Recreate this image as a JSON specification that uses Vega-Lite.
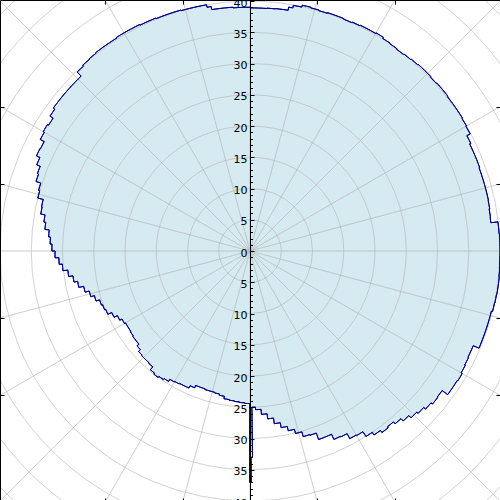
{
 "$schema": "https://vega.github.io/schema/vega-lite/v6.json",
 "width": 500, "height": 502, "padding": 0, "autosize": {"type": "none"},
 "background": "white",
 "config": {"view": {"stroke": null}, "axis": {"grid": false, "title": null, "zindex": 1, "domainColor": "black", "tickColor": "black", "labelColor": "black", "labelFont": "DejaVu Sans", "labelFontSize": 11, "labelFlush": false, "labelOverlap": false}},
 "datasets": {
  "bins": [
{"a0":0,"a1":2,"r":38.9},{"a0":2,"a1":4,"r":38.9},{"a0":4,"a1":6,"r":38.95},{"a0":6,"a1":8,"r":39.0},{"a0":8,"a1":9,"r":39.0},{"a0":9,"a1":10,"r":39.5},{"a0":10,"a1":12,"r":39.9},{"a0":12,"a1":14,"r":40.2},{"a0":14,"a1":16,"r":40.1},{"a0":16,"a1":18,"r":40.0},{"a0":18,"a1":20,"r":40.1},{"a0":20,"a1":22,"r":40.1},{"a0":22,"a1":24,"r":40.0},{"a0":24,"a1":26,"r":40.1},{"a0":26,"a1":28,"r":40.2},{"a0":28,"a1":30,"r":40.2},{"a0":30,"a1":32,"r":40.3},{"a0":32,"a1":34,"r":40.1},{"a0":34,"a1":36,"r":40.0},{"a0":36,"a1":38,"r":39.9},{"a0":38,"a1":40,"r":40.0},{"a0":40,"a1":42,"r":40.1},{"a0":42,"a1":44,"r":40.2},{"a0":44,"a1":46,"r":40.2},{"a0":46,"a1":48,"r":40.1},{"a0":48,"a1":50,"r":40.2},{"a0":50,"a1":52,"r":40.2},{"a0":52,"a1":54,"r":40.1},{"a0":54,"a1":56,"r":40.1},{"a0":56,"a1":58,"r":40.1},{"a0":58,"a1":60,"r":40.0},{"a0":60,"a1":62,"r":39.9},{"a0":62,"a1":64,"r":39.3},{"a0":64,"a1":66,"r":39.1},{"a0":66,"a1":68,"r":39.1},{"a0":68,"a1":70,"r":39.1},{"a0":70,"a1":72,"r":39.0},{"a0":72,"a1":74,"r":39.0},{"a0":74,"a1":76,"r":39.0},{"a0":76,"a1":78,"r":39.0},{"a0":78,"a1":80,"r":38.95},{"a0":80,"a1":82,"r":38.85},{"a0":82,"a1":83.3,"r":38.8},{"a0":83.3,"a1":86,"r":39.95},{"a0":86,"a1":88,"r":40.0},{"a0":88,"a1":90,"r":40.0},{"a0":90,"a1":92,"r":40.0},{"a0":92,"a1":94,"r":40.0},{"a0":94,"a1":96,"r":40.05},{"a0":96,"a1":98,"r":40.1},{"a0":98,"a1":100,"r":40.1},{"a0":100,"a1":102,"r":40.05},{"a0":102,"a1":104,"r":40.0},{"a0":104,"a1":106,"r":39.8},{"a0":106,"a1":108,"r":39.8},{"a0":108,"a1":110,"r":39.8},{"a0":110,"a1":112,"r":39.8},{"a0":112,"a1":113,"r":39.8},{"a0":113,"a1":114,"r":38.8},{"a0":114,"a1":116,"r":38.8},{"a0":116,"a1":118,"r":38.9},{"a0":118,"a1":120,"r":39.0},{"a0":120,"a1":122,"r":39.2},{"a0":122,"a1":124,"r":39.1},{"a0":124,"a1":126,"r":39.1},{"a0":126,"a1":128,"r":38.0},{"a0":128,"a1":130,"r":38.1},{"a0":130,"a1":132,"r":37.8},{"a0":132,"a1":134,"r":37.4},{"a0":134,"a1":136,"r":37.1},{"a0":136,"a1":138,"r":36.6},{"a0":138,"a1":140,"r":36.1},{"a0":140,"a1":142,"r":35.7},{"a0":142,"a1":144,"r":35.9},{"a0":144,"a1":146,"r":35.5},{"a0":146,"a1":148,"r":35.0},{"a0":148,"a1":150,"r":34.1},{"a0":150,"a1":152,"r":34.0},{"a0":152,"a1":154,"r":33.1},{"a0":154,"a1":156,"r":33.0},{"a0":156,"a1":158,"r":32.1},{"a0":158,"a1":160,"r":32.1},{"a0":160,"a1":162,"r":31.0},{"a0":162,"a1":164,"r":30.9},{"a0":164,"a1":166,"r":30.1},{"a0":166,"a1":168,"r":29.4},{"a0":168,"a1":170,"r":28.7},{"a0":170,"a1":172,"r":27.9},{"a0":172,"a1":174,"r":27.0},{"a0":174,"a1":176,"r":26.2},{"a0":176,"a1":178,"r":25.4},{"a0":178,"a1":179.3,"r":25.0},{"a0":179.3,"a1":179.7,"r":33.0},{"a0":179.7,"a1":180.1,"r":37.0},{"a0":180.1,"a1":182,"r":24.4},{"a0":182,"a1":184,"r":24.3},{"a0":184,"a1":186,"r":24.2},{"a0":186,"a1":188,"r":24.1},{"a0":188,"a1":190,"r":24.0},{"a0":190,"a1":192,"r":23.6},{"a0":192,"a1":194,"r":23.4},{"a0":194,"a1":196,"r":23.3},{"a0":196,"a1":198,"r":23.3},{"a0":198,"a1":200,"r":23.2},{"a0":200,"a1":202,"r":23.2},{"a0":202,"a1":204,"r":23.6},{"a0":204,"a1":206,"r":24.0},{"a0":206,"a1":208,"r":24.0},{"a0":208,"a1":210,"r":24.1},{"a0":210,"a1":212,"r":24.2},{"a0":212,"a1":214,"r":24.6},{"a0":214,"a1":216,"r":24.8},{"a0":216,"a1":218,"r":25.0},{"a0":218,"a1":220,"r":24.8},{"a0":220,"a1":222,"r":24.2},{"a0":222,"a1":224,"r":24.1},{"a0":224,"a1":226,"r":24.1},{"a0":226,"a1":228,"r":24.0},{"a0":228,"a1":230,"r":23.6},{"a0":230,"a1":232,"r":23.2},{"a0":232,"a1":234,"r":23.2},{"a0":234,"a1":236,"r":23.1},{"a0":236,"a1":238,"r":23.0},{"a0":238,"a1":240,"r":23.0},{"a0":240,"a1":242,"r":23.2},{"a0":242,"a1":244,"r":23.6},{"a0":244,"a1":246,"r":24.2},{"a0":246,"a1":248,"r":24.9},{"a0":248,"a1":250,"r":25.1},{"a0":250,"a1":252,"r":25.3},{"a0":252,"a1":254,"r":25.9},{"a0":254,"a1":256,"r":26.5},{"a0":256,"a1":258,"r":27.2},{"a0":258,"a1":260,"r":28.0},{"a0":260,"a1":262,"r":28.6},{"a0":262,"a1":264,"r":29.3},{"a0":264,"a1":266,"r":30.1},{"a0":266,"a1":268,"r":30.6},{"a0":268,"a1":270,"r":31.2},{"a0":270,"a1":272,"r":31.7},{"a0":272,"a1":274,"r":32.0},{"a0":274,"a1":276,"r":32.3},{"a0":276,"a1":278,"r":33.0},{"a0":278,"a1":280,"r":33.3},{"a0":280,"a1":282,"r":34.0},{"a0":282,"a1":284,"r":34.1},{"a0":284,"a1":286,"r":35.0},{"a0":286,"a1":288,"r":35.2},{"a0":288,"a1":290,"r":36.0},{"a0":290,"a1":292,"r":36.2},{"a0":292,"a1":294,"r":36.8},{"a0":294,"a1":296,"r":37.4},{"a0":296,"a1":298,"r":37.3},{"a0":298,"a1":300,"r":38.0},{"a0":300,"a1":302,"r":38.2},{"a0":302,"a1":304,"r":38.0},{"a0":304,"a1":306,"r":38.6},{"a0":306,"a1":308,"r":38.9},{"a0":308,"a1":310,"r":38.9},{"a0":310,"a1":312,"r":38.9},{"a0":312,"a1":314,"r":38.9},{"a0":314,"a1":316,"r":38.9},{"a0":316,"a1":318,"r":39.8},{"a0":318,"a1":320,"r":40.0},{"a0":320,"a1":322,"r":40.1},{"a0":322,"a1":324,"r":40.2},{"a0":324,"a1":326,"r":40.2},{"a0":326,"a1":328,"r":40.2},{"a0":328,"a1":330,"r":40.3},{"a0":330,"a1":332,"r":40.3},{"a0":332,"a1":334,"r":40.3},{"a0":334,"a1":336,"r":40.2},{"a0":336,"a1":338,"r":40.2},{"a0":338,"a1":340,"r":40.1},{"a0":340,"a1":342,"r":40.1},{"a0":342,"a1":344,"r":40.1},{"a0":344,"a1":346,"r":40.0},{"a0":346,"a1":348,"r":40.0},{"a0":348,"a1":350,"r":40.0},{"a0":350,"a1":351,"r":39.6},{"a0":351,"a1":352,"r":39.1},{"a0":352,"a1":354,"r":39.1},{"a0":354,"a1":356,"r":39.1},{"a0":356,"a1":358,"r":39.0},{"a0":358,"a1":360,"r":39.0}
  ],
  "circles": [{"r":5},{"r":10},{"r":15},{"r":20},{"r":25},{"r":30},{"r":35},{"r":40},{"r":45},{"r":50},{"r":55}],
  "spokes": [{"a":0},{"a":15},{"a":30},{"a":45},{"a":60},{"a":75},{"a":90},{"a":105},{"a":120},{"a":135},{"a":150},{"a":165},{"a":180},{"a":195},{"a":210},{"a":225},{"a":240},{"a":255},{"a":270},{"a":285},{"a":300},{"a":315},{"a":330},{"a":345}],
  "ax": [{"v":0}]
 },
 "layer": [
  {"data": {"name": "bins"},
   "mark": {"type": "arc", "clip": true, "fill": "#d6eaf1", "stroke": "#d6eaf1", "strokeWidth": 1},
   "encoding": {
    "theta": {"field": "a0", "type": "quantitative", "stack": null, "scale": {"type": "linear", "domain": [0, 360], "range": [0, 6.283185307179586], "zero": false, "nice": false}},
    "theta2": {"field": "a1"},
    "radius": {"field": "r", "type": "quantitative", "stack": null, "scale": {"type": "linear", "domain": [0, 40], "range": [0, 250], "zero": true, "nice": false}}
   }},
  {"data": {"name": "circles"},
   "mark": {"type": "arc", "clip": true, "filled": false, "stroke": "#b4b4b4", "strokeOpacity": 0.6, "strokeWidth": 1},
   "encoding": {
    "theta": {"datum": 0, "type": "quantitative"},
    "theta2": {"datum": 360},
    "radius": {"field": "r", "type": "quantitative", "stack": null}
   }},
  {"data": {"name": "spokes"},
   "mark": {"type": "arc", "clip": true, "filled": false, "stroke": "#b4b4b4", "strokeOpacity": 0.37, "strokeWidth": 1},
   "encoding": {
    "theta": {"field": "a", "type": "quantitative", "stack": null},
    "theta2": {"field": "a"},
    "radius": {"datum": 60, "type": "quantitative"}
   }},
  {"data": {"name": "bins"},
   "mark": {"type": "arc", "clip": true, "filled": false, "stroke": "#00008b", "strokeWidth": 1},
   "encoding": {
    "theta": {"field": "a0", "type": "quantitative", "stack": null},
    "theta2": {"field": "a1"},
    "radius": {"field": "r", "type": "quantitative", "stack": null},
    "radius2": {"field": "r"}
   }},
  {"data": {"name": "bins"},
   "transform": [{"window": [{"op": "lag", "field": "r", "as": "rp"}], "sort": [{"field": "a0"}]}, {"filter": "datum.rp != null"}],
   "mark": {"type": "arc", "clip": true, "filled": false, "stroke": "#00008b", "strokeWidth": 1},
   "encoding": {
    "theta": {"field": "a0", "type": "quantitative", "stack": null},
    "theta2": {"field": "a0"},
    "radius": {"field": "r", "type": "quantitative", "stack": null},
    "radius2": {"field": "rp"}
   }},
  {"data": {"name": "ax"},
   "mark": {"type": "point", "opacity": 0},
   "encoding": {
    "x": {"field": "v", "type": "quantitative", "scale": {"domain": [-40, 40], "nice": false, "zero": false}, "axis": {"orient": "bottom", "offset": -502, "zindex": 2, "values": [-23.19, -10.76, 10.76, 23.19], "tickSize": 4, "labels": false, "domain": true}},
    "y": {"field": "v", "type": "quantitative", "scale": {"domain": [-40.16, 40.16], "nice": false, "zero": false}, "axis": {"orient": "left", "offset": -250, "zindex": 2, "values": [-40,-35,-30,-25,-20,-15,-10,-5,0,5,10,15,20,25,30,35,40], "ticks": false, "labelExpr": "abs(datum.value)", "labelPadding": 3, "labelOffset": 2, "labelBaseline": "middle", "domain": true}}
   }},
  {"data": {"name": "ax"},
   "mark": {"type": "point", "opacity": 0},
   "encoding": {
    "x": {"field": "v", "type": "quantitative", "scale": {"domain": [-40, 40], "nice": false, "zero": false}, "axis": {"orient": "top", "offset": -502, "zindex": 2, "values": [-23.19, -10.76, 10.76, 23.19], "tickSize": 4, "labels": false, "domain": true}},
    "y": {"field": "v", "type": "quantitative", "scale": {"domain": [-40.16, 40.16], "nice": false, "zero": false}, "axis": {"orient": "right", "offset": -250, "zindex": 2, "values": [-40,-35,-30,-25,-20,-15,-10,-5,0,5,10,15,20,25,30,35,40], "tickSize": 4, "labels": false, "domain": false}}
   }},
  {"data": {"name": "ax"},
   "mark": {"type": "point", "opacity": 0},
   "encoding": {
    "y": {"field": "v", "type": "quantitative", "scale": {"domain": [-40.16, 40.16], "nice": false, "zero": false}, "axis": {"orient": "right", "offset": -250, "zindex": 2, "values": [-40,-39,-38,-37,-36,-35,-34,-33,-32,-31,-30,-29,-28,-27,-26,-25,-24,-23,-22,-21,-20,-19,-18,-17,-16,-15,-14,-13,-12,-11,-10,-9,-8,-7,-6,-5,-4,-3,-2,-1,0,1,2,3,4,5,6,7,8,9,10,11,12,13,14,15,16,17,18,19,20,21,22,23,24,25,26,27,28,29,30,31,32,33,34,35,36,37,38,39,40], "tickSize": 2.5, "labels": false, "domain": false}}
   }},
  {"data": {"name": "ax"},
   "mark": {"type": "point", "opacity": 0},
   "encoding": {
    "y": {"field": "v", "type": "quantitative", "scale": {"domain": [-40.16, 40.16], "nice": false, "zero": false}, "axis": {"orient": "right", "offset": -500, "zindex": 2, "values": [-23.09, -10.72, 10.72, 23.09], "tickSize": 4, "labels": false, "domain": true}}
   }},
  {"data": {"name": "ax"},
   "mark": {"type": "point", "opacity": 0},
   "encoding": {
    "y": {"field": "v", "type": "quantitative", "scale": {"domain": [-40.16, 40.16], "nice": false, "zero": false}, "axis": {"orient": "left", "offset": -500, "zindex": 2, "values": [-23.09, -10.72, 10.72, 23.09], "tickSize": 4, "labels": false, "domain": true}}
   }}
 ],
 "resolve": {"axis": {"x": "independent", "y": "independent"}}
}
